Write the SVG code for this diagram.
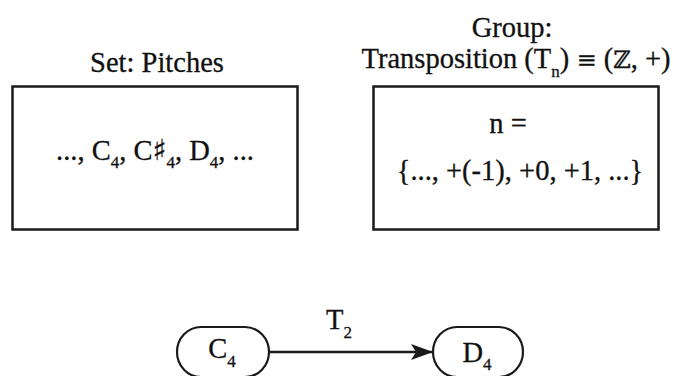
<svg xmlns="http://www.w3.org/2000/svg" width="673" height="376" viewBox="0 0 673 376">
<defs>
<style>
text{font-family:'Liberation Serif','Times New Roman',serif;fill:#111;font-size:28.5px;stroke:#111;stroke-width:0.3}
.sub{font-size:17px}
.sym{font-family:'DejaVu Serif',serif;font-size:24px}
.sharp{font-family:'DejaVu Serif',serif;font-size:29px}
.box{fill:#fff;stroke:#1a1a1a;stroke-width:2.5}
.pill{fill:#fff;stroke:#1a1a1a;stroke-width:2.2}
.edge{stroke:#1a1a1a;stroke-width:2.5;fill:none}
</style>
<marker id="arr" markerUnits="userSpaceOnUse" markerWidth="24" markerHeight="20" refX="22" refY="10" orient="auto">
<path d="M0,2 L22,10 L0,18 L5,10 Z" fill="#1a1a1a"/>
</marker>
</defs>
<rect width="673" height="376" fill="#fff"/>
<g id="set-pitches">
<text x="157" y="72" text-anchor="middle">Set: Pitches</text>
<rect class="box" x="12.5" y="86.5" width="285" height="143"/>
<text x="155" y="160" text-anchor="middle">..., C<tspan class="sub" dy="8">4</tspan><tspan dy="-8">, C</tspan><tspan class="sharp">♯</tspan><tspan class="sub" dy="8">4</tspan><tspan dy="-8">, D</tspan><tspan class="sub" dy="8">4</tspan><tspan dy="-8">, ...</tspan></text>
</g>
<g id="group-transposition">
<text x="512" y="37" text-anchor="middle">Group:</text>
<text x="516" y="68" text-anchor="middle">Transposition (T<tspan class="sub" dy="9">n</tspan><tspan dy="-9">) </tspan><tspan class="sym">≡</tspan><tspan> (</tspan><tspan class="sym">ℤ</tspan><tspan>, +)</tspan></text>
<rect class="box" x="373.5" y="86.5" width="285" height="143"/>
<text x="508" y="133" text-anchor="middle">n =</text>
<text x="520" y="180" text-anchor="middle">{..., +(-1), +0, +1, ...}</text>
</g>
<g id="node-c4">
<rect class="pill" x="177" y="327" width="92" height="50" rx="24" ry="25"/>
<text x="222" y="358" text-anchor="middle">C<tspan class="sub" dy="9">4</tspan></text>
</g>
<g id="node-d4">
<rect class="pill" x="433" y="327" width="90" height="50" rx="24" ry="25"/>
<text x="477" y="362" text-anchor="middle">D<tspan class="sub" dy="8">4</tspan></text>
</g>
<g id="connectors">
<line class="edge" x1="269" y1="352" x2="433" y2="352" marker-end="url(#arr)"/>
<text x="339" y="329" text-anchor="middle">T<tspan class="sub" dy="9">2</tspan></text>
</g>
</svg>
